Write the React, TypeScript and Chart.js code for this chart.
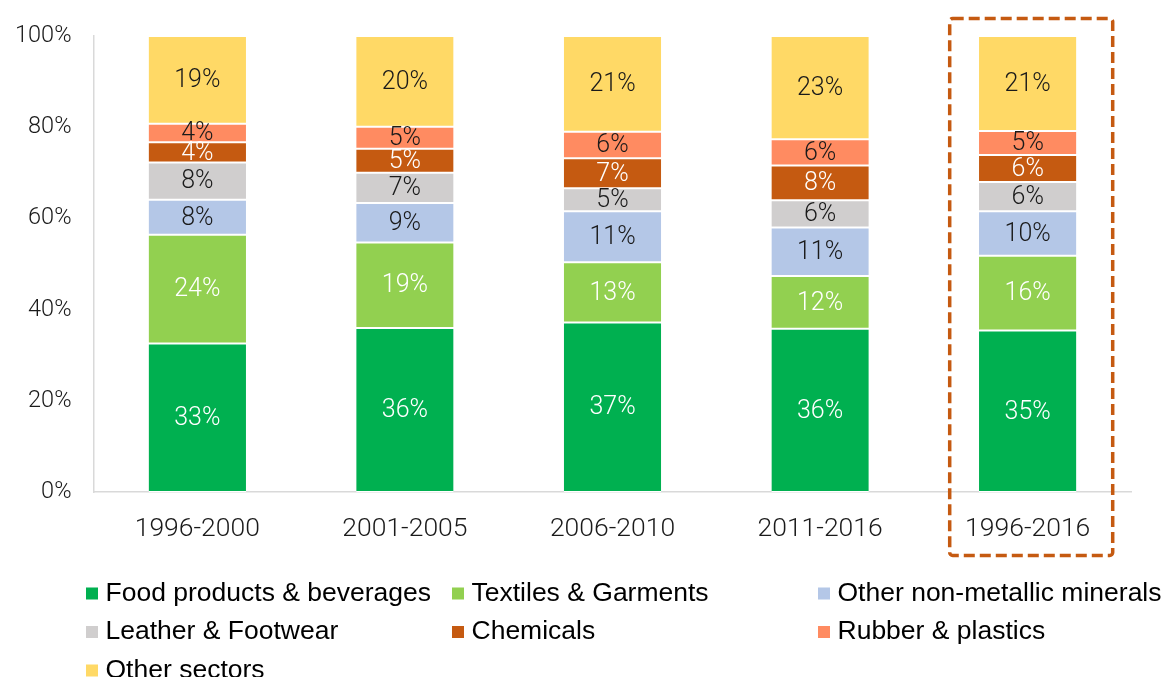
import React, { useEffect, useRef } from "react";
import { Chart, registerables } from "chart.js";

Chart.register(...registerables);

const categories = ["1996-2000", "2001-2005", "2006-2010", "2011-2016", "1996-2016"];
const seriesNames = [
  "Food products & beverages",
  "Textiles & Garments",
  "Other non-metallic minerals",
  "Leather & Footwear",
  "Chemicals",
  "Rubber & plastics",
  "Other sectors",
];
const food = [32.6, 36.0, 37.2, 35.8, 35.4];
const textiles = [23.8, 18.7, 13.2, 11.6, 16.4];
const minerals = [7.7, 8.7, 11.2, 10.6, 9.8];
const leather = [8.2, 6.6, 5.0, 6.0, 6.4];
const chemicals = [4.4, 5.3, 6.6, 7.6, 5.9];
const rubber = [4.1, 4.8, 5.8, 5.8, 5.3];
const other = [19.2, 19.9, 21.0, 22.6, 20.8];
const yTicks = [0, 20, 40, 60, 80, 100];
const highlightIndex = 4;

const seriesValues = [food, textiles, minerals, leather, chemicals, rubber, other];
const seriesColors = ["#00B050", "#92D050", "#B4C7E7", "#D0CECE", "#C55A11", "#FF8B61", "#FFD966"];
const labelColors = ["#FFFFFF", "#FFFFFF", "#1A1A1A", "#1A1A1A", "#FFFFFF", "#1A1A1A", "#1A1A1A"];

const THIN_FONT = "Roboto, 'Liberation Sans', Arial, sans-serif";
const LEGEND_FONT = "'Liberation Sans', Arial, sans-serif";

const dataLabelPlugin = {
  id: "segLabels",
  afterDatasetsDraw(chart: any) {
    const ctx = chart.ctx;
    ctx.save();
    ctx.font = `300 25px ${THIN_FONT}`;
    ctx.textAlign = "center";
    ctx.textBaseline = "middle";
    chart.data.datasets.forEach((ds: any, di: number) => {
      const meta = chart.getDatasetMeta(di);
      meta.data.forEach((el: any, i: number) => {
        const v = ds.data[i];
        const y = (el.y + el.base) / 2;
        ctx.fillStyle = labelColors[di];
        ctx.fillText(`${Math.round(v)}%`, el.x, y + 1);
      });
    });
    ctx.restore();
  },
};

const legendPlugin = {
  id: "gridLegend",
  afterDraw(chart: any) {
    const ctx = chart.ctx;
    const colX = [86, 452, 818];
    const rowY = [593.5, 632, 670.5];
    ctx.save();
    ctx.font = `26.5px ${LEGEND_FONT}`;
    ctx.textAlign = "left";
    ctx.textBaseline = "middle";
    chart.data.datasets.forEach((ds: any, i: number) => {
      const x = colX[i % 3];
      const y = rowY[Math.floor(i / 3)];
      ctx.fillStyle = ds.backgroundColor;
      ctx.fillRect(x, y - 6, 12, 12);
      ctx.fillStyle = "#000000";
      ctx.fillText(ds.label, x + 19.5, y);
    });
    ctx.restore();
  },
};

const highlightPlugin = {
  id: "highlightBox",
  afterDraw(chart: any) {
    const ctx = chart.ctx;
    const xs = chart.scales.x;
    const area = chart.chartArea;
    const c = xs.getPixelForValue(highlightIndex);
    const left = c - 78;
    const right = c + 85;
    const top = area.top - 17.5;
    const bottom = area.bottom + 63.5;
    ctx.save();
    ctx.strokeStyle = "#C55A11";
    ctx.lineWidth = 3.5;
    ctx.setLineDash([11, 5]);
    ctx.beginPath();
    if (ctx.roundRect) ctx.roundRect(left, top, right - left, bottom - top, 3);
    else ctx.rect(left, top, right - left, bottom - top);
    ctx.stroke();
    ctx.restore();
  },
};

export default function App() {
  const canvasRef = useRef<HTMLCanvasElement | null>(null);

  useEffect(() => {
    if (!canvasRef.current) return;
    const chart = new Chart(canvasRef.current, {
      type: "bar",
      data: {
        labels: categories,
        datasets: seriesNames.map((name, i) => ({
          label: name,
          data: seriesValues[i],
          backgroundColor: seriesColors[i],
          borderColor: "#FFFFFF",
          borderWidth: { top: 1, bottom: 1, left: 0, right: 0 },
          borderSkipped: false,
          categoryPercentage: 1,
          barPercentage: 0.469,
        })),
      },
      options: {
        animation: false,
        responsive: true,
        maintainAspectRatio: false,
        layout: { padding: { left: 0, right: 33.5, top: 34, bottom: 0 } },
        plugins: {
          legend: { display: false },
          tooltip: { enabled: false },
          title: { display: false },
        },
        scales: {
          x: {
            stacked: true,
            grid: { display: false, drawTicks: false },
            border: { display: true, color: "#D9D9D9", width: 1.5 },
            ticks: {
              padding: 21,
              color: "#1A1A1A",
              font: { family: THIN_FONT, size: 26.5, weight: 300 as any },
              maxRotation: 0,
              autoSkip: false,
            },
            afterFit(s: any) {
              s.height = 185;
            },
          },
          y: {
            stacked: true,
            min: 0,
            max: 100,
            grid: { display: false, drawTicks: false },
            border: { display: true, color: "#D9D9D9", width: 1.5 },
            afterBuildTicks(s: any) {
              s.ticks = yTicks.map((v) => ({ value: v }));
            },
            ticks: {
              padding: 22,
              color: "#1A1A1A",
              font: { family: THIN_FONT, size: 23.5, weight: 300 as any },
              callback: (v: any) => `${v}%`,
            },
            afterFit(s: any) {
              s.width = 93.5;
            },
          },
        },
      },
      plugins: [dataLabelPlugin, highlightPlugin, legendPlugin],
    });
    return () => chart.destroy();
  }, []);

  return (
    <div style={{ position: "absolute", left: 0, top: 0, width: 1165, height: 677, background: "#FFFFFF" }}>
      <canvas ref={canvasRef} />
    </div>
  );
}
